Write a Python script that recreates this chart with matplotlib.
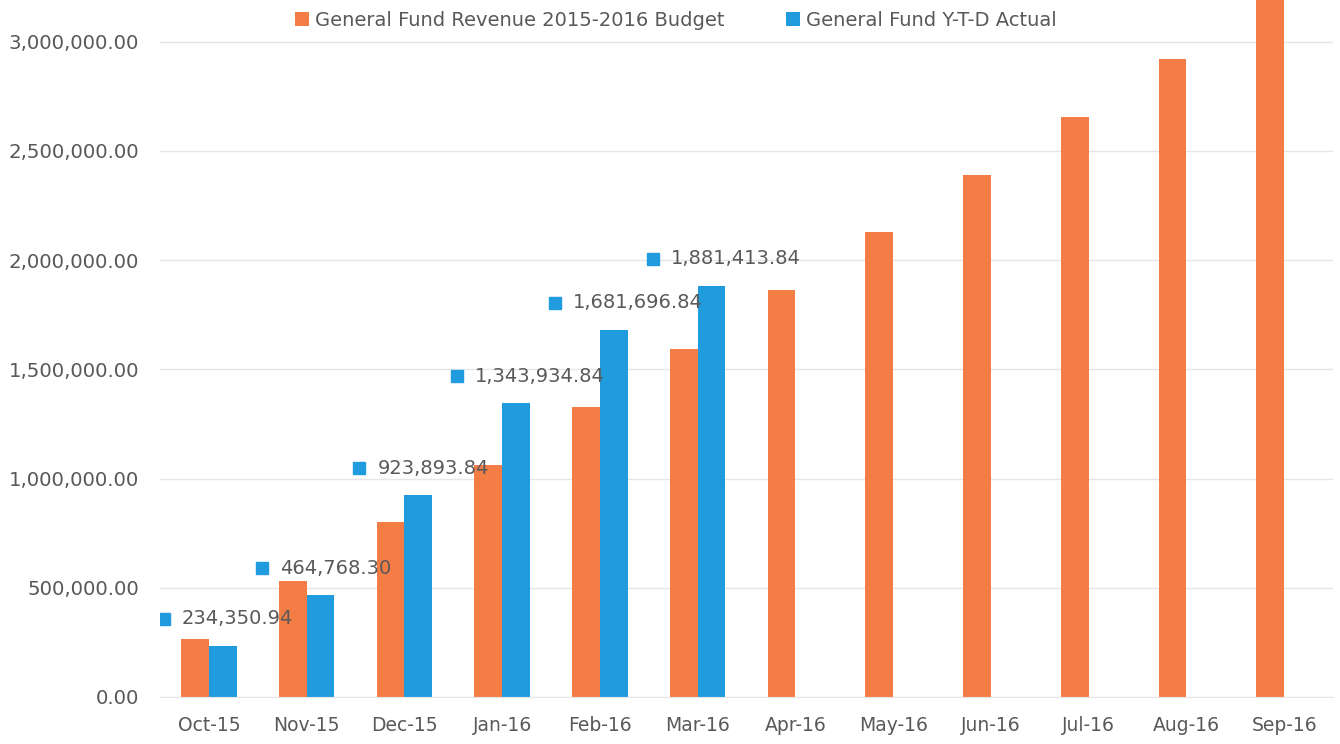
import matplotlib.pyplot as plt
import matplotlib.transforms as mtransforms
import numpy as np

months = ['Oct-15', 'Nov-15', 'Dec-15', 'Jan-16', 'Feb-16', 'Mar-16',
          'Apr-16', 'May-16', 'Jun-16', 'Jul-16', 'Aug-16', 'Sep-16']
budget = [265000, 531000, 801000, 1062000, 1328000, 1593000,
          1864000, 2129000, 2390000, 2656000, 2921000, 3190000]
actual = [234350.94, 464768.30, 923893.84, 1343934.84, 1681696.84, 1881413.84]

orange = '#F47D46'
blue = '#1F9BDE'
grey = '#595959'

fig = plt.figure(figsize=(13.4, 7.44), dpi=100)
ax = fig.add_axes([160/1340, 1 - 697/744, 1173/1340, 697/744])

x = np.arange(len(months))
w = 0.285
ax.bar(x - w/2, budget, w, color=orange, label='General Fund Revenue 2015-2016 Budget', zorder=2)
xa = np.arange(len(actual))
ax.bar(xa + w/2, actual, w, color=blue, label='General Fund Y-T-D Actual', zorder=2)

# data labels: blue square + value, above-left of each group
off = mtransforms.offset_copy(ax.transData, fig=fig, y=27, units='dots')
off_txt = mtransforms.offset_copy(ax.transData, fig=fig, x=18, y=27, units='dots')
for i, v in enumerate(actual):
    ax.plot(i - 0.46, v, marker='s', ms=8, color=blue, transform=off, zorder=3)
    ax.text(i - 0.46, v, f'{v:,.2f}', transform=off_txt, color=grey,
            fontsize=14, va='center', ha='left', zorder=3)

ax.set_xlim(-0.5, 11.5)
ax.set_ylim(0, 3190000)
ax.set_yticks(np.arange(0, 3000001, 500000))
ax.yaxis.set_major_formatter(plt.FuncFormatter(lambda v, p: f'{v:,.2f}'))
ax.set_xticks(x)
ax.set_xticklabels(months)
ax.tick_params(axis='both', length=0, labelcolor=grey)
ax.tick_params(axis='y', pad=15, labelsize=14.2)
ax.tick_params(axis='x', pad=14, labelsize=13.5)
ax.grid(axis='y', color='#e6e6e6', linewidth=1, zorder=0)
for s in ['top', 'right', 'left']:
    ax.spines[s].set_visible(False)
ax.spines['bottom'].set_color('#e6e6e6')

fig.legend(loc='center', bbox_to_anchor=(676/1340, 1 - 20/744), ncol=2, frameon=False,
           fontsize=14, labelcolor=grey, handlelength=0.7, handleheight=0.7,
           handletextpad=0.3, columnspacing=3.2)

fig.savefig('out.png', dpi=100)
